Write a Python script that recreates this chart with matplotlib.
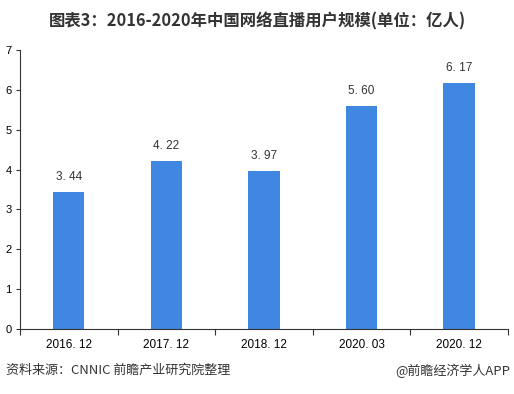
import numpy as np
import matplotlib.pyplot as plt

plt.rcParams['font.family'] = ['Noto Sans CJK SC', 'DejaVu Sans']

# data
periods = ['2016. 12', '2017. 12', '2018. 12', '2020. 03', '2020. 12']
users = [3.44, 4.22, 3.97, 5.60, 6.17]
labels = ['3. 44', '4. 22', '3. 97', '5. 60', '6. 17']

fig = plt.figure(figsize=(5.14, 3.94), dpi=100)
ax = fig.add_axes([0.039, 0.165, 0.949, 0.708])

pos = np.arange(len(periods))
ax.bar(pos, users, width=0.32, color='#3f87e0')
for x, v, t in zip(pos, users, labels):
    ax.text(x, v + 0.22, t, ha='center', va='bottom', fontsize=8.5, color='#333333',
            family='Liberation Sans')

ax.set_xlim(-0.5, len(periods) - 0.5)
ax.set_ylim(0, 7)
ax.set_yticks(range(0, 8))
ax.set_yticklabels([str(i) for i in range(0, 8)], family='Liberation Sans', fontsize=8)
# ticks at category boundaries on x axis
ax.set_xticks(np.arange(-0.5, len(periods), 1.0))
ax.set_xticklabels([])
ax.set_xticks(pos, minor=True)
ax.set_xticklabels(periods, minor=True, family='Liberation Sans', fontsize=8.5)
ax.tick_params(axis='x', which='minor', length=0, pad=7)
ax.tick_params(axis='x', which='major', length=4, color='#333333')
ax.tick_params(axis='y', length=3, pad=3, color='#333333')
for s in ['top', 'right']:
    ax.spines[s].set_visible(False)
ax.spines['left'].set_color('#333333')
ax.spines['bottom'].set_color('#333333')

fig.text(0.5, 0.945, '图表3：2016-2020年中国网络直播用户规模(单位：亿人)', ha='center', va='center',
         fontsize=11.8, fontweight='bold', color='#333333')
fig.text(0.012, 0.06, '资料来源：CNNIC 前瞻产业研究院整理', ha='left', va='center',
         fontsize=9.4, color='#333333')
fig.text(0.992, 0.06, '@前瞻经济学人APP', ha='right', va='center',
         fontsize=9.4, color='#333333')

fig.savefig('out.png', dpi=100)
